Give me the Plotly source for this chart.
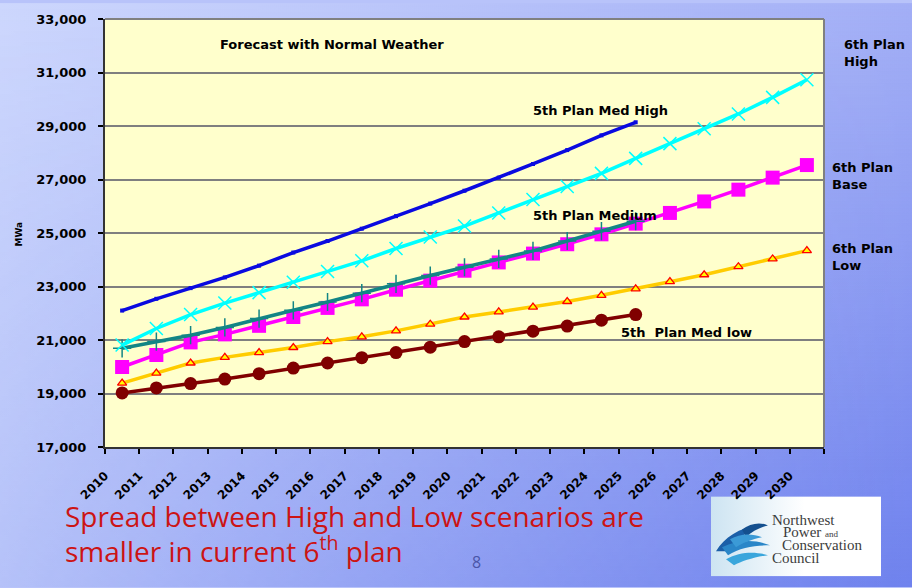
import base64
import plotly.graph_objects as go

# ---------------- data ----------------
years = list(range(2010, 2031))
years_5th = list(range(2010, 2026))

plan5_med_high = [22100, 22540, 22940, 23340, 23780, 24270, 24700, 25160, 25630, 26100,
                  26580, 27070, 27580, 28100, 28650, 29140]
plan6_high = [20810, 21430, 21950, 22380, 22770, 23160, 23560, 23960, 24420, 24850,
              25260, 25750, 26250, 26740, 27230, 27790, 28340, 28900, 29450, 30070, 30730]
plan5_medium = [20690, 20940, 21180, 21470, 21800, 22110, 22420, 22750, 23100, 23410,
                23720, 24030, 24330, 24700, 25070, 25440]
plan6_base = [19990, 20440, 20910, 21210, 21530, 21860, 22200, 22520, 22880, 23220,
              23590, 23900, 24230, 24580, 24950, 25350, 25750, 26180, 26620, 27070, 27540]
plan6_low = [19390, 19760, 20140, 20350, 20530, 20720, 20940, 21120, 21340, 21590,
             21860, 22050, 22230, 22440, 22670, 22910, 23180, 23440, 23740, 24030, 24340]
plan5_med_low = [19020, 19210, 19370, 19540, 19740, 19950, 20140, 20340, 20530, 20730,
                 20940, 21120, 21330, 21520, 21740, 21950]

y_ticks = [17000, 19000, 21000, 23000, 25000, 27000, 29000, 31000, 33000]
x_tick_labels = [str(y) for y in years]

# ---------------- layout geometry (pixels) ----------------
W, H = 912, 588
L, R, T, B = 105, 824, 16, 447
PW, PH = R - L, B - T


def px(x):
    return (x - L) / PW


def py(y):
    return 1 - (y - T) / PH


# ---------------- background svg (gradient, plot panel, logo artwork) ----------------
svg = f'''<svg xmlns="http://www.w3.org/2000/svg" width="{W}" height="{H}" viewBox="0 0 {W} {H}" preserveAspectRatio="none">
<defs>
<linearGradient id="gh" gradientUnits="userSpaceOnUse" x1="0" y1="0" x2="{W}" y2="0">
<stop offset="0" stop-color="#cdd7fd"/><stop offset="1" stop-color="#a3aff6"/></linearGradient>
<linearGradient id="gv" gradientUnits="userSpaceOnUse" x1="0" y1="0" x2="0" y2="{H}">
<stop offset="0" stop-color="#4f66e8" stop-opacity="0"/><stop offset="1" stop-color="#4f66e8" stop-opacity="0.62"/></linearGradient>
<linearGradient id="gm" gradientUnits="userSpaceOnUse" x1="0" y1="0" x2="{W}" y2="0">
<stop offset="0" stop-color="#4d4d4d"/><stop offset="1" stop-color="#ffffff"/></linearGradient>
<mask id="m"><rect width="{W}" height="{H}" fill="url(#gm)"/></mask>
<linearGradient id="lg" x1="0" y1="0" x2="1" y2="0">
<stop offset="0" stop-color="#cde4f2"/><stop offset="0.55" stop-color="#ffffff"/><stop offset="1" stop-color="#ffffff"/></linearGradient>
</defs>
<rect width="{W}" height="{H}" fill="url(#gh)"/>
<rect width="{W}" height="{H}" fill="url(#gv)" mask="url(#m)"/>
<rect x="{L}" y="{T}" width="{PW}" height="{PH}" fill="#ffffcc"/>
<rect x="711" y="497" width="170" height="80" fill="url(#lg)"/>
<path d="M716 552 C724 538 740 528 758 526 C748 532 736 540 728 552 Z" fill="#1b5fa8"/>
<path d="M722 548 C738 540 756 540 770 546 C756 546 740 548 728 556 Z" fill="#2a86c8"/>
<path d="M726 560 C740 552 756 552 768 556 C754 558 742 562 734 566 Z" fill="#3aa6dc"/>
<path d="M742 530 C750 524 760 522 768 526 C760 528 752 532 746 538 Z" fill="#14508f"/>
<path d="M730 540 C740 534 752 534 762 538 C752 540 742 544 736 548 Z" fill="#3b9ad6"/>
</svg>'''
svg_uri = "data:image/svg+xml;base64," + base64.b64encode(svg.encode()).decode()

fig = go.Figure()

fig.add_trace(go.Scatter(x=years_5th, y=plan5_med_low, mode="lines+markers", name="5th Plan Med low",
                         line=dict(color="#800000", width=3.5),
                         marker=dict(symbol="circle", size=13, color="#800000")))
fig.add_trace(go.Scatter(x=years, y=plan6_low, mode="lines+markers", name="6th Plan Low",
                         line=dict(color="#ffcc00", width=3.5),
                         marker=dict(symbol="triangle-up", size=8, color="#ffff00",
                                     line=dict(color="#ff0000", width=1.3))))
fig.add_trace(go.Scatter(x=years, y=plan6_base, mode="lines+markers", name="6th Plan Base",
                         line=dict(color="#ff00ff", width=3.5),
                         marker=dict(symbol="square", size=14, color="#ff00ff")))
fig.add_trace(go.Scatter(x=years_5th, y=plan5_medium, mode="lines+markers", name="5th Plan Medium",
                         line=dict(color="#138585", width=3.5),
                         marker=dict(symbol="cross-thin", size=13, color="#138585",
                                     line=dict(color="#138585", width=1.5))))
fig.add_trace(go.Scatter(x=years, y=plan6_high, mode="lines+markers", name="6th Plan High",
                         line=dict(color="#00ffff", width=3.5),
                         marker=dict(symbol="x-thin", size=13, color="#00ffff",
                                     line=dict(color="#00ffff", width=1.5))))
fig.add_trace(go.Scatter(x=years_5th, y=plan5_med_high, mode="lines+markers", name="5th Plan Med High",
                         line=dict(color="#0a0ae0", width=3.5),
                         marker=dict(symbol="square", size=4, color="#0a0ae0")))

tick_font = dict(family="DejaVu Sans", size=13, color="black", weight="bold")
lab_font = dict(family="DejaVu Sans", size=13, color="black")

fig.update_layout(
    width=W, height=H,
    margin=dict(l=L, r=W - R, t=T, b=H - B, pad=0),
    paper_bgcolor="#b8c3fa",
    plot_bgcolor="rgba(0,0,0,0)",
    showlegend=False,
    images=[dict(source=svg_uri, xref="paper", yref="paper",
                 x=px(0), y=py(0), sizex=W / PW, sizey=H / PH,
                 xanchor="left", yanchor="top", sizing="stretch", layer="below")],
    xaxis=dict(range=[2009.5, 2030.5], tickmode="array",
               tickvals=[y - 0.5 for y in years] + [2030.5],
               ticktext=x_tick_labels + [""],
               tickangle=-45,
               tickfont=dict(family="DejaVu Sans", size=12, color="black", weight="bold"),
               ticks="outside", ticklen=5, tickcolor="black", tickwidth=1.5,
               showgrid=False, zeroline=False,
               showline=True, linecolor="#333333", linewidth=2,
               ticklabelstandoff=10),
    yaxis=dict(range=[17000, 33000], tickmode="array", tickvals=y_ticks,
               ticktext=[f"{v:,}" for v in y_ticks], tickfont=tick_font,
               ticks="outside", ticklen=5, tickcolor="black", tickwidth=1.5,
               showgrid=True, gridcolor="#7f7f7f", gridwidth=1.5,
               zeroline=False, showline=True, linecolor="#333333", linewidth=2,
               ticklabelstandoff=9),
    shapes=[dict(type="line", xref="paper", yref="paper", x0=0, x1=1, y0=1, y1=1,
                 line=dict(color="#808080", width=2)),
            dict(type="line", xref="paper", yref="paper", x0=1, x1=1, y0=0, y1=1,
                 line=dict(color="#808080", width=2))],
)

annotations = [
    dict(text="<b>Forecast with Normal Weather</b>", x=px(218), y=py(42), xanchor="left", font=lab_font),
    dict(text="<b>5th Plan Med High</b>", x=px(531), y=py(108), xanchor="left", font=lab_font),
    dict(text="<b>5th Plan Medium</b>", x=px(531), y=py(214), xanchor="left", font=lab_font),
    dict(text="<b>5th  Plan Med low</b>", x=px(619), y=py(332), xanchor="left", font=lab_font),
    dict(text="<b>6th Plan<br>High</b>", x=px(842), y=py(50), xanchor="left", align="left", font=lab_font),
    dict(text="<b>6th Plan<br>Base</b>", x=px(830), y=py(174), xanchor="left", align="left", font=lab_font),
    dict(text="<b>6th Plan<br>Low</b>", x=px(830), y=py(256), xanchor="left", align="left", font=lab_font),
    dict(text="<b>MWa</b>", x=px(12), y=py(233), textangle=-90,
         font=dict(family="DejaVu Sans", size=9, color="black")),
    dict(text="Spread between High and Low scenarios are", x=px(63), y=py(516), xanchor="left",
         font=dict(family="Open Sans", size=28, color="#cc1414")),
    dict(text="smaller in current 6<sup>th</sup> plan", x=px(63), y=py(550), xanchor="left",
         font=dict(family="Open Sans", size=28, color="#cc1414")),
    dict(text="8", x=px(476), y=py(563), font=dict(family="Open Sans", size=16, color="#4a55a8")),
    dict(text="Northwest", x=px(770), y=py(521), xanchor="left",
         font=dict(family="Liberation Serif", size=15, color="#3c3c3c")),
    dict(text="Power <span style='font-size:9px'>and</span>", x=px(781), y=py(533), xanchor="left",
         font=dict(family="Liberation Serif", size=15, color="#3c3c3c")),
    dict(text="Conservation", x=px(780), y=py(546), xanchor="left",
         font=dict(family="Liberation Serif", size=15, color="#3c3c3c")),
    dict(text="Council", x=px(770), y=py(559), xanchor="left",
         font=dict(family="Liberation Serif", size=15, color="#3c3c3c")),
]
for a in annotations:
    a.update(xref="paper", yref="paper", showarrow=False)
    a.setdefault("yanchor", "middle")
fig.update_layout(annotations=annotations)

fig.write_html("out.html")
